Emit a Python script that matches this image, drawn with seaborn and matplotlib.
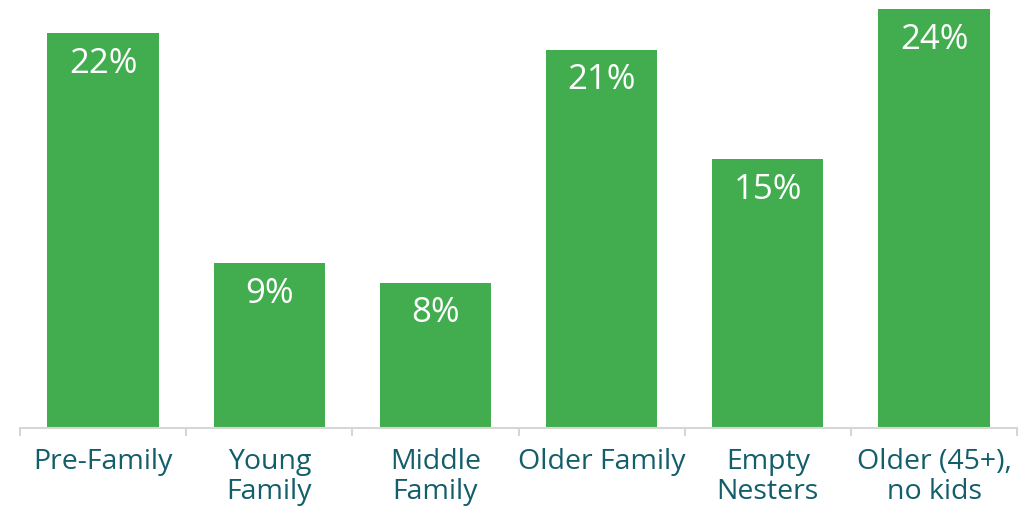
import matplotlib
matplotlib.use("Agg")
import matplotlib.pyplot as plt
import seaborn as sns
import pandas as pd
from matplotlib.ticker import FixedLocator

segments = ["Pre-Family", "Young\nFamily", "Middle\nFamily", "Older Family",
            "Empty\nNesters", "Older (45+),\nno kids"]
shares = [22.0, 9.2, 8.1, 21.1, 15.0, 24.0]
labels = ["22%", "9%", "8%", "21%", "15%", "24%"]

GREEN = "#41ad4f"
TEXT = "#135e6b"
GREY = "#d6d6d6"

df = pd.DataFrame({"segment": segments, "share": shares})

sns.set_theme(style="white")
plt.rcParams["font.family"] = ["Open Sans", "DejaVu Sans"]

fig = plt.figure(figsize=(10.33, 5.09), dpi=100)
ax = fig.add_axes([0.0194, 0.159, 0.9652, 0.823])

sns.barplot(data=df, x="segment", y="share", color=GREEN, saturation=1,
            width=0.67, linewidth=0, ax=ax)

ymax = 23.35
ax.set_ylim(0, ymax)
ax.set_xlim(-0.5, 5.5)

for i, (v, lab) in enumerate(zip(shares, labels)):
    ax.annotate(lab, (i, min(v, ymax)), xytext=(0, -22), textcoords="offset points",
                ha="center", va="center", color="white", fontsize=25)

for s in ["top", "right", "left"]:
    ax.spines[s].set_visible(False)
ax.spines["bottom"].set_color(GREY)
ax.spines["bottom"].set_linewidth(1.5)
ax.set_yticks([])
ax.set_xlabel("")
ax.set_ylabel("")

ax.tick_params(axis="x", which="major", length=0, pad=14, labelsize=20.5,
               labelcolor=TEXT)
ax.xaxis.set_minor_locator(FixedLocator([x - 0.5 for x in range(7)]))
ax.tick_params(axis="x", which="minor", length=6, width=1.5, color=GREY,
               bottom=True)
for t in ax.get_xticklabels():
    t.set_verticalalignment("top")
    t.set_linespacing(1.12)

fig.savefig("out.png", dpi=100)
